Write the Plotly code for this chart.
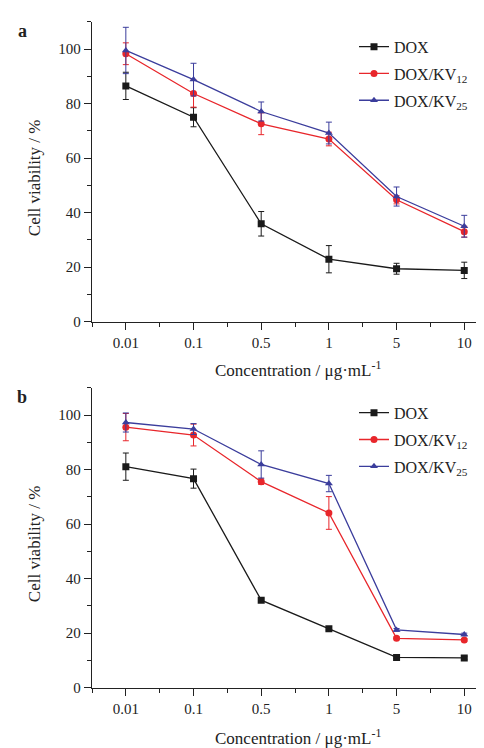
import plotly.graph_objects as go

conc_labels = ["0.01", "0.1", "0.5", "1", "5", "10"]
x_idx = list(range(len(conc_labels)))

# Panel a
a_dox = [86.5, 75.0, 35.9, 22.9, 19.4, 18.8]
a_dox_err = [5.0, 3.5, 4.5, 5.0, 2.0, 3.0]
a_kv12 = [98.3, 83.7, 72.6, 67.0, 44.7, 33.0]
a_kv12_err = [4.0, 5.0, 4.0, 2.5, 1.5, 2.0]
a_kv25 = [99.5, 88.8, 77.1, 69.2, 45.9, 35.0]
a_kv25_err = [8.5, 6.0, 3.5, 4.0, 3.5, 4.0]

# Panel b
b_dox = [81.1, 76.7, 32.1, 21.6, 11.1, 10.9]
b_dox_err = [5.0, 3.5, 0.5, 0.5, 0.5, 0.5]
b_kv12 = [95.6, 92.7, 75.6, 64.1, 18.1, 17.5]
b_kv12_err = [5.0, 4.0, 1.0, 6.0, 0.5, 0.5]
b_kv25 = [97.3, 94.9, 81.9, 74.9, 21.2, 19.5]
b_kv25_err = [3.5, 2.0, 5.0, 3.0, 0.5, 0.5]

names = ["DOX", "DOX/KV<sub>12</sub>", "DOX/KV<sub>25</sub>"]
colors = ["#1a1a1a", "#e8262b", "#3b3d9c"]
symbols = ["square", "circle", "triangle-up"]

FONT = "Liberation Serif, Times New Roman, serif"
W, H = 484, 748

fig = go.Figure()

panels = [
    ("x", "y", "legend", "a", [(a_dox, a_dox_err), (a_kv12, a_kv12_err), (a_kv25, a_kv25_err)]),
    ("x2", "y2", "legend2", "b", [(b_dox, b_dox_err), (b_kv12, b_kv12_err), (b_kv25, b_kv25_err)]),
]
for xa, ya, lg, pid, series in panels:
    for i, (vals, errs) in enumerate(series):
        fig.add_trace(go.Scatter(
            x=x_idx, y=vals, name=names[i], xaxis=xa, yaxis=ya, legend=lg,
            legendgroup=f"{pid}{i}",
            mode="lines+markers",
            line=dict(color=colors[i], width=1.3),
            marker=dict(symbol=symbols[i], size=7, color=colors[i]),
            error_y=dict(type="data", array=errs, visible=True, color=colors[i], thickness=1, width=3),
        ))

x0 = 84 / W
def ydom(top_px, bot_px):
    return [1 - bot_px / H, 1 - top_px / H]

common_x = dict(
    range=[-0.5, 5.41], tickmode="array", tickvals=x_idx, ticktext=conc_labels,
    showline=True, linecolor="#222", linewidth=1.3, ticks="outside", ticklen=7, tickwidth=1.2,
    tickcolor="#222", showgrid=False, zeroline=False,
    tickfont=dict(family=FONT, size=15, color="#222"),
    minor=dict(tickmode="array", tickvals=[i + 0.5 for i in range(-1, 6)], ticks="outside", ticklen=4, tickwidth=1.2, tickcolor="#222"),
)
common_y = dict(
    range=[0, 110], tickmode="array", tickvals=[0, 20, 40, 60, 80, 100],
    showline=True, linecolor="#222", linewidth=1.3, ticks="outside", ticklen=7, tickwidth=1.2,
    tickcolor="#222", showgrid=False, zeroline=False,
    tickfont=dict(family=FONT, size=15, color="#222"),
    minor=dict(tickmode="array", tickvals=[10, 30, 50, 70, 90, 110], ticks="outside", ticklen=4, tickwidth=1.2, tickcolor="#222"),
)

legend_common = dict(xanchor="left", yanchor="top",
                     font=dict(family=FONT, size=16, color="#222"), bgcolor="rgba(0,0,0,0)",
                     itemwidth=30, tracegroupgap=3)

fig.update_layout(
    width=W, height=H, margin=dict(l=0, r=0, t=0, b=0),
    paper_bgcolor="white", plot_bgcolor="white",
    font=dict(family=FONT, color="#222"),
    xaxis=dict(domain=[x0, 1], anchor="y", **common_x),
    yaxis=dict(domain=ydom(14, 317), anchor="x", **common_y),
    xaxis2=dict(domain=[x0, 1], anchor="y2", **common_x),
    yaxis2=dict(domain=ydom(384, 687), anchor="x2", **common_y),
    legend=dict(x=346 / W, y=1 - 22 / H, **legend_common),
    legend2=dict(x=346 / W, y=1 - 392 / H, **legend_common),
    showlegend=True,
)

for lbl, cy in [("a", 23), ("b", 393)]:
    fig.add_annotation(xref="paper", yref="paper", x=14 / W, y=1 - cy / H, text=f"<b>{lbl}</b>",
                       showarrow=False, xanchor="center", yanchor="middle",
                       font=dict(family=FONT, size=18, color="#222"))

for cy in [365, 737]:
    fig.add_annotation(xref="paper", yref="paper", x=290 / W, y=1 - cy / H,
                       text="Concentration / μg·mL<sup>-1</sup>", showarrow=False,
                       xanchor="center", yanchor="middle",
                       font=dict(family=FONT, size=17, color="#222"))
for cy in [172, 542]:
    fig.add_annotation(xref="paper", yref="paper", x=26 / W, y=1 - cy / H,
                       text="Cell viability / %", showarrow=False, textangle=-90,
                       xanchor="center", yanchor="middle",
                       font=dict(family=FONT, size=17, color="#222"))

fig.write_html("out.html")
